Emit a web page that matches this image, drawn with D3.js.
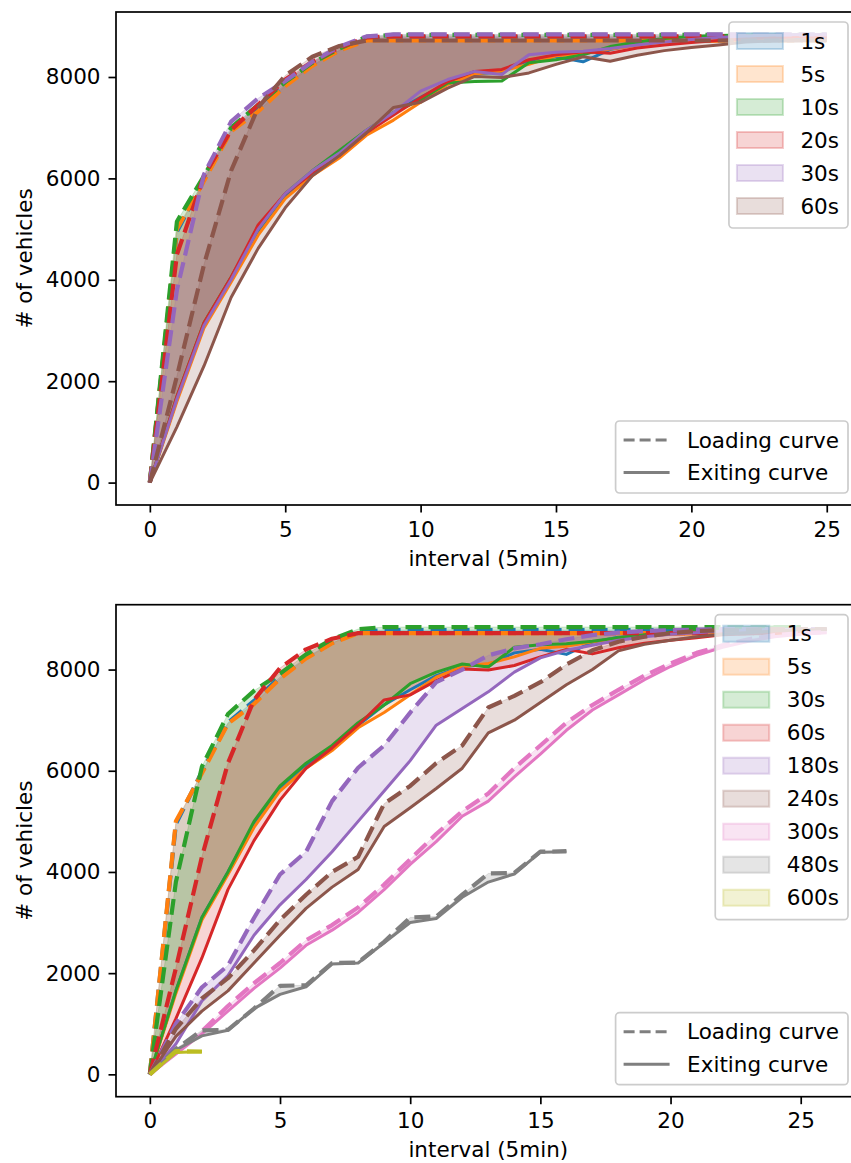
<!DOCTYPE html>
<html>
<head>
<meta charset="utf-8">
<script src="https://cdn.jsdelivr.net/npm/d3@7"></script>
<style>
  body { margin: 0; background: #fff; }
  text { font-family: "DejaVu Sans", sans-serif; fill: #000; }
</style>
</head>
<body>
<svg id="chart" width="851" height="1163"></svg>
<script>
// Cumulative vehicle counts per 5-minute interval (index = interval number).
// "load" = loading curve (dashed), "exit" = exiting curve (solid).
const load1s  = [0, 4950, 5980, 6950, 7380, 7850, 8240, 8530, 8740, 8780, 8780, 8780, 8780, 8780, 8780, 8780, 8780, 8780, 8780, 8780, 8780, 8780, 8780, 8780, 8780, 8780];
const exit1s  = [0, 1650, 3100, 4000, 4950, 5650, 6100, 6480, 6900, 7300, 7600, 7880, 8060, 8100, 8330, 8400, 8300, 8540, 8640, 8690, 8720, 8750, 8770, 8780, 8780, 8780];
const load5s  = [0, 5000, 5950, 6930, 7320, 7820, 8220, 8520, 8720, 8720, 8720, 8720, 8720, 8720, 8720, 8720, 8720, 8720, 8720, 8720, 8720, 8720, 8720, 8720, 8720, 8720];
const exit5s  = [0, 1600, 3050, 3950, 4880, 5600, 6050, 6400, 6850, 7150, 7500, 7850, 8060, 8120, 8250, 8420, 8460, 8550, 8620, 8670, 8700, 8710, 8720, 8720, 8720, 8720];
const load10s = [0, 5150, 6050, 7000, 7450, 7900, 8280, 8560, 8790, 8830, 8830, 8830, 8830, 8830, 8830, 8830, 8830, 8830, 8830, 8830, 8830, 8830, 8830, 8830, 8830, 8830];
const exit10s = [0, 1700, 3150, 4050, 5000, 5700, 6150, 6550, 6950, 7300, 7550, 7880, 7910, 7920, 8280, 8340, 8440, 8600, 8690, 8760, 8800, 8820, 8830, 8830, 8830, 8830];
const load20s = [0, 4500, 6050, 6950, 7450, 7950, 8300, 8580, 8780, 8800, 8800, 8800, 8800, 8800, 8800, 8800, 8800, 8800, 8800, 8800, 8800, 8800, 8800, 8800, 8800, 8800];
const exit20s = [0, 1700, 3150, 4050, 5080, 5700, 6100, 6450, 6900, 7250, 7590, 7910, 8110, 8150, 8340, 8440, 8500, 8470, 8570, 8630, 8680, 8720, 8750, 8780, 8800, 8800];
const load30s = [0, 3800, 6080, 7120, 7580, 7920, 8300, 8600, 8800, 8840, 8840, 8840, 8840, 8840, 8840, 8840, 8840, 8840, 8840, 8840, 8840, 8840, 8840, 8840, 8840, 8840];
const exit30s = [0, 1650, 3100, 4000, 5000, 5700, 6150, 6500, 6950, 7300, 7720, 7950, 8110, 8050, 8440, 8490, 8510, 8560, 8630, 8690, 8740, 8780, 8810, 8830, 8840, 8840];
const load60s = [0, 2100, 4300, 6150, 7400, 8030, 8400, 8610, 8720, 8720, 8720, 8720, 8720, 8720, 8720, 8720, 8720, 8720, 8720, 8720, 8720, 8720, 8720, 8720, 8720, 8720];
const exit60s = [0, 1100, 2300, 3650, 4620, 5420, 6050, 6450, 6900, 7400, 7500, 7780, 8010, 7990, 8080, 8250, 8400, 8310, 8430, 8520, 8580, 8630, 8690, 8710, 8720, 8720];
const load180s = [0, 1000, 1720, 2150, 3090, 3950, 4400, 5400, 6060, 6500, 7150, 7750, 8000, 8280, 8420, 8500, 8600, 8680, 8730, 8760, 8780, 8790, 8800, 8800, 8800, 8800, 8800];
const exit180s = [0, 600, 1450, 1950, 2750, 3350, 3850, 4400, 5000, 5600, 6200, 6900, 7230, 7560, 7950, 8230, 8380, 8480, 8580, 8650, 8700, 8730, 8760, 8780, 8790, 8790, 8790];
const load240s = [0, 900, 1500, 1900, 2450, 3050, 3550, 4000, 4300, 5350, 5700, 6150, 6500, 7250, 7480, 7750, 8100, 8380, 8550, 8650, 8720, 8760, 8780, 8790, 8800, 8800, 8800];
const exit240s = [0, 750, 1250, 1650, 2200, 2750, 3280, 3700, 4050, 4900, 5270, 5650, 6050, 6750, 7000, 7350, 7700, 8000, 8370, 8500, 8580, 8650, 8700, 8730, 8760, 8780, 8790];
const load300s = [0, 450, 850, 1350, 1800, 2200, 2650, 2950, 3300, 3750, 4250, 4750, 5200, 5550, 6050, 6500, 6950, 7300, 7600, 7880, 8120, 8330, 8480, 8600, 8680, 8720, 8740];
const exit300s = [0, 400, 800, 1250, 1700, 2100, 2550, 2850, 3200, 3650, 4150, 4600, 5100, 5400, 5880, 6330, 6800, 7200, 7500, 7800, 8060, 8280, 8440, 8560, 8650, 8700, 8730];
const load480s = [0, 500, 870, 880, 1300, 1750, 1760, 2200, 2210, 2620, 3100, 3120, 3550, 3970, 3980, 4400, 4410];
const exit480s = [0, 480, 760, 870, 1300, 1580, 1730, 2180, 2200, 2600, 3000, 3080, 3500, 3800, 3960, 4390, 4400];
const load600s = [0, 460, 450];
const exit600s = [0, 430, 450];

// Which aggregation intervals appear in each panel (legend order)
const topLabels = ["1s", "5s", "10s", "20s", "30s", "60s"];
const bottomLabels = ["1s", "5s", "30s", "60s", "180s", "240s", "300s", "480s", "600s"];
const lineStyleLabels = ["Loading curve", "Exiting curve"];
const xTicks = [0, 5, 10, 15, 20, 25];
const yTicks = [0, 2000, 4000, 6000, 8000];
const xTitle = "interval (5min)";
const yTitle = "# of vehicles";

const curves = {
  "1s": [load1s, exit1s], "5s": [load5s, exit5s], "10s": [load10s, exit10s],
  "20s": [load20s, exit20s], "30s": [load30s, exit30s], "60s": [load60s, exit60s],
  "180s": [load180s, exit180s], "240s": [load240s, exit240s], "300s": [load300s, exit300s],
  "480s": [load480s, exit480s], "600s": [load600s, exit600s]
};

const palette = d3.schemeCategory10;
const FS = 21.5;
const svg = d3.select("#chart");

function drawPanel(box, labels, clipId) {
  const maxX = d3.max(labels, l => curves[l][0].length - 1);
  const maxY = d3.max(labels, l => d3.max(curves[l].flat()));
  const x = d3.scaleLinear().domain([-0.05 * maxX, maxX * 1.05]).range([box.left, box.right]);
  const y = d3.scaleLinear().domain([-0.05 * maxY, maxY * 1.05]).range([box.bottom, box.top]);

  svg.append("clipPath").attr("id", clipId).append("rect")
    .attr("x", box.left).attr("y", box.top)
    .attr("width", box.right - box.left).attr("height", box.bottom - box.top);

  const plot = svg.append("g").attr("clip-path", `url(#${clipId})`);

  // shaded band between loading and exiting curves
  labels.forEach((l, k) => {
    const [ld, ex] = curves[l];
    const area = d3.area().x((d, i) => x(i)).y0((d, i) => y(ex[i])).y1(d => y(d));
    plot.append("path").attr("d", area(ld))
      .attr("fill", palette[k]).attr("fill-opacity", 0.2)
      .attr("stroke", palette[k]).attr("stroke-opacity", 0.2).attr("stroke-width", 1);
  });

  const line = d3.line().x((d, i) => x(i)).y(d => y(d));
  labels.forEach((l, k) => {
    const [ld, ex] = curves[l];
    plot.append("path").attr("d", line(ld)).attr("fill", "none")
      .attr("stroke", palette[k]).attr("stroke-width", 4.2)
      .attr("stroke-dasharray", "16,7").attr("stroke-linejoin", "round");
    plot.append("path").attr("d", line(ex)).attr("fill", "none")
      .attr("stroke", palette[k]).attr("stroke-width", 3)
      .attr("stroke-linejoin", "round");
  });

  // axes
  const xAxis = svg.append("g").attr("transform", `translate(0,${box.bottom})`)
    .call(d3.axisBottom(x).tickValues(xTicks).tickSize(7.5).tickPadding(7));
  const yAxis = svg.append("g").attr("transform", `translate(${box.left},0)`)
    .call(d3.axisLeft(y).tickValues(yTicks).tickFormat(d3.format("d")).tickSize(7.5).tickPadding(8));
  [xAxis, yAxis].forEach(a => {
    a.select(".domain").remove();
    a.selectAll(".tick line").attr("stroke", "#000").attr("stroke-width", 1.7);
    a.selectAll(".tick text").attr("font-size", FS).attr("font-family", "DejaVu Sans").attr("fill", "#000");
  });
  xAxis.selectAll(".tick text").attr("dy", null).attr("y", 31.5);

  svg.append("rect").attr("x", box.left).attr("y", box.top)
    .attr("width", box.right - box.left).attr("height", box.bottom - box.top)
    .attr("fill", "none").attr("stroke", "#000").attr("stroke-width", 1.7);

  svg.append("text").attr("x", (box.left + box.right) / 2).attr("y", box.bottom + 60.5)
    .attr("text-anchor", "middle").attr("font-size", FS).text(xTitle);
  svg.append("text")
    .attr("transform", `translate(31.5,${(box.top + box.bottom) / 2}) rotate(-90)`)
    .attr("text-anchor", "middle").attr("font-size", FS).text(yTitle);

  // legend of intervals (upper right)
  const rowH = 33, right = 848;
  const lg = svg.append("g");
  const frame = lg.append("rect");
  const texts = [];
  labels.forEach((l, k) => {
    const cy = box.top + 29 + k * rowH;
    lg.append("rect").attr("y", cy - 8).attr("width", 46).attr("height", 16)
      .attr("class", "patch")
      .attr("fill", palette[k]).attr("fill-opacity", 0.2)
      .attr("stroke", palette[k]).attr("stroke-opacity", 0.25).attr("stroke-width", 2);
    texts.push(lg.append("text").attr("y", cy + 7.7).attr("font-size", FS).text(l));
  });
  const tw = d3.max(texts, t => t.node().getComputedTextLength());
  const boxW = 8 + 46 + 17.5 + tw + 9;
  const left = right - boxW;
  lg.selectAll(".patch").attr("x", left + 8);
  texts.forEach(t => t.attr("x", left + 8 + 46 + 17.5));
  frame.attr("x", left).attr("y", box.top + 10).attr("width", boxW)
    .attr("height", 12 + labels.length * rowH - 4)
    .attr("rx", 4).attr("fill", "#fff").attr("fill-opacity", 0.8)
    .attr("stroke", "#ccc").attr("stroke-width", 1.7);

  // legend of line styles (lower right)
  const lg2 = svg.append("g");
  const frame2 = lg2.append("rect");
  const top2 = box.bottom - 12 - 72;
  const t2 = [];
  lineStyleLabels.forEach((l, k) => {
    const cy = top2 + 19 + k * 32.5;
    lg2.append("line").attr("class", "h").attr("y1", cy).attr("y2", cy)
      .attr("stroke", "#7f7f7f").attr("stroke-width", 3)
      .attr("stroke-dasharray", k === 0 ? "11,5" : null);
    t2.push(lg2.append("text").attr("y", cy + 7.7).attr("font-size", FS).text(l));
  });
  const tw2 = d3.max(t2, t => t.node().getComputedTextLength());
  const w2 = 8 + 46 + 17.5 + tw2 + 9;
  const left2 = right - w2;
  lg2.selectAll(".h").attr("x1", left2 + 8).attr("x2", left2 + 54);
  t2.forEach(t => t.attr("x", left2 + 8 + 46 + 17.5));
  frame2.attr("x", left2).attr("y", top2).attr("width", w2).attr("height", 72)
    .attr("rx", 4).attr("fill", "#fff").attr("fill-opacity", 0.8)
    .attr("stroke", "#ccc").attr("stroke-width", 1.7);
}

drawPanel({ left: 116, right: 860.6, top: 12, bottom: 505 }, topLabels, "clipTop");
drawPanel({ left: 116, right: 860.6, top: 604.7, bottom: 1096.7 }, bottomLabels, "clipBottom");
</script>
</body>
</html>
